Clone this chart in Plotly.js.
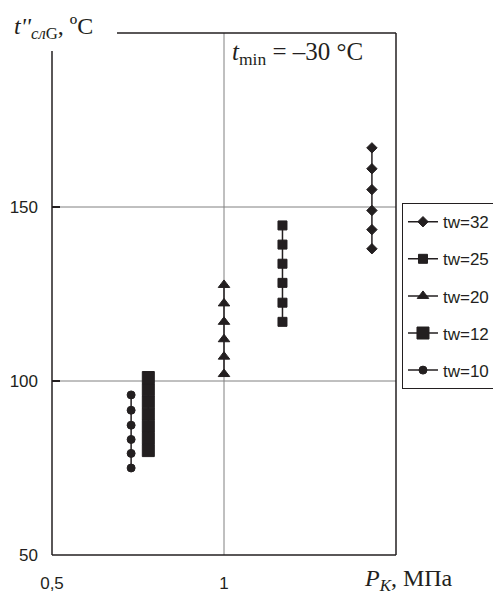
<!DOCTYPE html>
<html>
<head>
<meta charset="utf-8">
<script src="https://cdn.plot.ly/plotly-3.0.1.min.js"></script>
<style>html,body{margin:0;padding:0;background:#fff;}#chart{width:493px;height:597px;}</style>
</head>
<body>
<div id="chart"></div>
<script>
// ---- data ----
const seriesNames = ["tw=32", "tw=25", "tw=20", "tw=12", "tw=10"];
const pressure = [1.43, 1.17, 1.0, 0.78, 0.73];   // P_K, MPa for each series
const tw32 = [138, 143.5, 149, 155, 161, 167];
const tw25 = [117, 122.5, 128.2, 133.7, 139.2, 144.7];
const tw20 = [102, 107, 112, 117, 122.3, 127.6];
const tw12 = [80, 83.5, 87, 90.5, 94, 97.5, 101];
const tw10 = [75, 79.2, 83.2, 87.3, 91.6, 96];
const xTickVals = [0.5, 1];
const xTickText = ["0,5", "1"];
const yTickVals = [50, 100, 150];
const yTickText = ["50", "100", "150"];
const gridY = [100, 150];
const gridX = [1];

const seriesValues = [tw32, tw25, tw20, tw12, tw10];
const symbols = ["diamond", "square", "triangle-up", "square", "circle"];
const sizes = [8, 9, 10, 12, 8];
const ink = "#231f20";
const sans = "Liberation Sans, Arial, sans-serif";
const serif = "Liberation Serif, Times New Roman, serif";

const traces = seriesNames.map((name, i) => ({
  type: "scatter",
  mode: "lines+markers",
  name: name,
  legendgroup: name,
  x: seriesValues[i].map(() => pressure[i]),
  y: seriesValues[i],
  line: {color: ink, width: 1.5},
  marker: {symbol: symbols[i], size: sizes[i], color: ink, line: {width: 1, color: ink}},
  cliponaxis: false
}));

const shapes = [];
// frame
shapes.push({type: "line", xref: "paper", yref: "paper", x0: 0, x1: 0, y0: 0, y1: 0.9655, line: {color: ink, width: 1.5}});
shapes.push({type: "line", xref: "paper", yref: "paper", x0: 0.189, x1: 1, y0: 1, y1: 1, line: {color: ink, width: 1.5}});
shapes.push({type: "line", xref: "paper", yref: "paper", x0: 1, x1: 1, y0: 0, y1: 1, line: {color: ink, width: 1.5}});
shapes.push({type: "line", xref: "paper", yref: "paper", x0: 0, x1: 1, y0: 0, y1: 0, line: {color: ink, width: 1.5}});
gridX.forEach(v => shapes.push({type: "line", xref: "x", yref: "paper", x0: v, x1: v, y0: 0, y1: 1, layer: "below", line: {color: "#808080", width: 1}}));
gridY.forEach(v => shapes.push({type: "line", xref: "paper", yref: "y", x0: 0, x1: 1, y0: v, y1: v, layer: "below", line: {color: "#808080", width: 1}}));

const layout = {
  width: 493, height: 597,
  margin: {l: 52, r: 97, t: 33, b: 42, autoexpand: false},
  paper_bgcolor: "#fff", plot_bgcolor: "#fff",
  showlegend: true,
  xaxis: {
    range: [0.5, 1.5], showgrid: false, zeroline: false, showline: false,
    tickmode: "array", tickvals: xTickVals, ticktext: xTickText,
    ticks: "", ticklabelstandoff: 16,
    tickfont: {family: sans, size: 17, color: ink}
  },
  yaxis: {
    range: [50, 200], showgrid: false, zeroline: false, showline: false,
    tickmode: "array", tickvals: yTickVals, ticktext: yTickText,
    ticks: "inside", ticklen: 8, tickwidth: 1.5, tickcolor: ink, ticklabelstandoff: 13,
    tickfont: {family: sans, size: 17, color: ink}
  },
  legend: {
    x: 1.0174, y: 0.674, xanchor: "left", yanchor: "top",
    bordercolor: ink, borderwidth: 1, bgcolor: "#fff",
    font: {family: sans, size: 17, color: ink},
    tracegroupgap: 12, traceorder: "grouped"
  },
  shapes: shapes,
  annotations: [
    {xref: "paper", yref: "paper", x: -0.116, y: 1.01, xanchor: "left", yanchor: "middle", showarrow: false,
     text: "<i>t''</i><sub><i>сл</i>G</sub>, ºC", font: {family: serif, size: 24, color: ink}},
    {xref: "x", yref: "y", x: 1.215, y: 194, xanchor: "center", yanchor: "middle", showarrow: false,
     text: "<i>t</i><sub>min</sub> = –30 °C", font: {family: serif, size: 25, color: ink}},
    {xref: "paper", yref: "paper", x: 0.901, y: -0.048, xanchor: "left", yanchor: "middle", showarrow: false,
     text: "<i>P<sub>K</sub></i>, МПа", font: {family: serif, size: 24, color: ink}}
  ]
};

Plotly.newPlot("chart", traces, layout, {displayModeBar: false, staticPlot: true});
</script>
</body>
</html>
